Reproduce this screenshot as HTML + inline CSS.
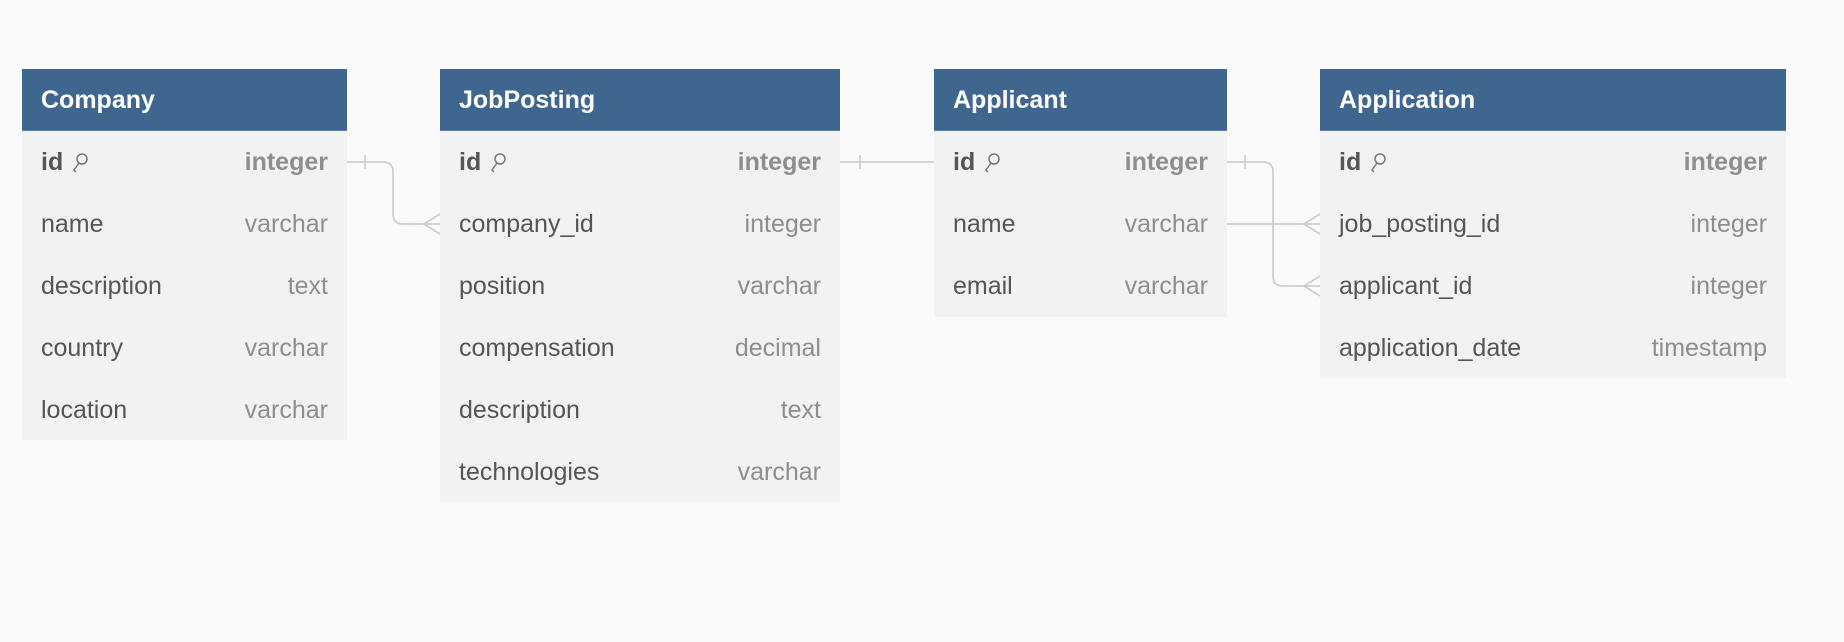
<!DOCTYPE html>
<html><head><meta charset="utf-8"><style>
body{margin:0;width:1844px;height:642px;background:#fafafa;position:relative;overflow:hidden;font-family:"Liberation Sans",sans-serif}
.t{position:absolute;background:#f2f2f2}
.h{height:62px;background:#3f668f;color:#fff;font-weight:bold;font-size:25px;line-height:62px;padding-left:19px;border-bottom:1px solid #5a80ad;box-sizing:border-box}
.r{height:62px;display:flex;justify-content:space-between;align-items:center;padding:0 19px;font-size:25px;color:#555}
.r span:last-child{color:#8e8e8e}
.r.b{font-weight:bold}
svg.c{position:absolute;left:0;top:0}
.k{display:inline-block;vertical-align:middle;margin-left:8px}
</style></head><body>
<svg class="c" width="1844" height="642">
<g fill="none" stroke="#c8c8c8" stroke-width="1.5">
<path d="M346 162 H383 Q393 162 393 172 V214 Q393 224 403 224 H440"/>
<path d="M365 155 V169"/>
<path d="M440 214 L424 224 L440 234"/>
<path d="M840 162 H934"/>
<path d="M860 155 V169"/>
<path d="M1226 224 H1320"/>
<path d="M1320 214 L1304 224 L1320 234"/>
<path d="M1226 162 H1263 Q1273 162 1273 172 V276 Q1273 286 1283 286 H1320"/>
<path d="M1245 155 V169"/>
<path d="M1320 276 L1304 286 L1320 296"/>
</g></svg>
<div class="t" style="left:22px;top:69px;width:325px;height:371px">
<div class="h">Company</div>
<div class="r b"><span>id<svg class="k" width="18" height="22" viewBox="0 0 18 22"><circle cx="11" cy="7" r="5" fill="none" stroke="#777" stroke-width="1.5"/><path d="M8 11 L3 18 L5 20" fill="none" stroke="#777" stroke-width="1.5"/></svg></span><span>integer</span></div>
<div class="r"><span>name</span><span>varchar</span></div>
<div class="r"><span>description</span><span>text</span></div>
<div class="r"><span>country</span><span>varchar</span></div>
<div class="r"><span>location</span><span>varchar</span></div>
</div>
<div class="t" style="left:440px;top:69px;width:400px;height:433px">
<div class="h">JobPosting</div>
<div class="r b"><span>id<svg class="k" width="18" height="22" viewBox="0 0 18 22"><circle cx="11" cy="7" r="5" fill="none" stroke="#777" stroke-width="1.5"/><path d="M8 11 L3 18 L5 20" fill="none" stroke="#777" stroke-width="1.5"/></svg></span><span>integer</span></div>
<div class="r"><span>company_id</span><span>integer</span></div>
<div class="r"><span>position</span><span>varchar</span></div>
<div class="r"><span>compensation</span><span>decimal</span></div>
<div class="r"><span>description</span><span>text</span></div>
<div class="r"><span>technologies</span><span>varchar</span></div>
</div>
<div class="t" style="left:934px;top:69px;width:293px;height:248px">
<div class="h">Applicant</div>
<div class="r b"><span>id<svg class="k" width="18" height="22" viewBox="0 0 18 22"><circle cx="11" cy="7" r="5" fill="none" stroke="#777" stroke-width="1.5"/><path d="M8 11 L3 18 L5 20" fill="none" stroke="#777" stroke-width="1.5"/></svg></span><span>integer</span></div>
<div class="r"><span>name</span><span>varchar</span></div>
<div class="r"><span>email</span><span>varchar</span></div>
</div>
<div class="t" style="left:1320px;top:69px;width:466px;height:309px">
<div class="h">Application</div>
<div class="r b"><span>id<svg class="k" width="18" height="22" viewBox="0 0 18 22"><circle cx="11" cy="7" r="5" fill="none" stroke="#777" stroke-width="1.5"/><path d="M8 11 L3 18 L5 20" fill="none" stroke="#777" stroke-width="1.5"/></svg></span><span>integer</span></div>
<div class="r"><span>job_posting_id</span><span>integer</span></div>
<div class="r"><span>applicant_id</span><span>integer</span></div>
<div class="r"><span>application_date</span><span>timestamp</span></div>
</div>
</body></html>
